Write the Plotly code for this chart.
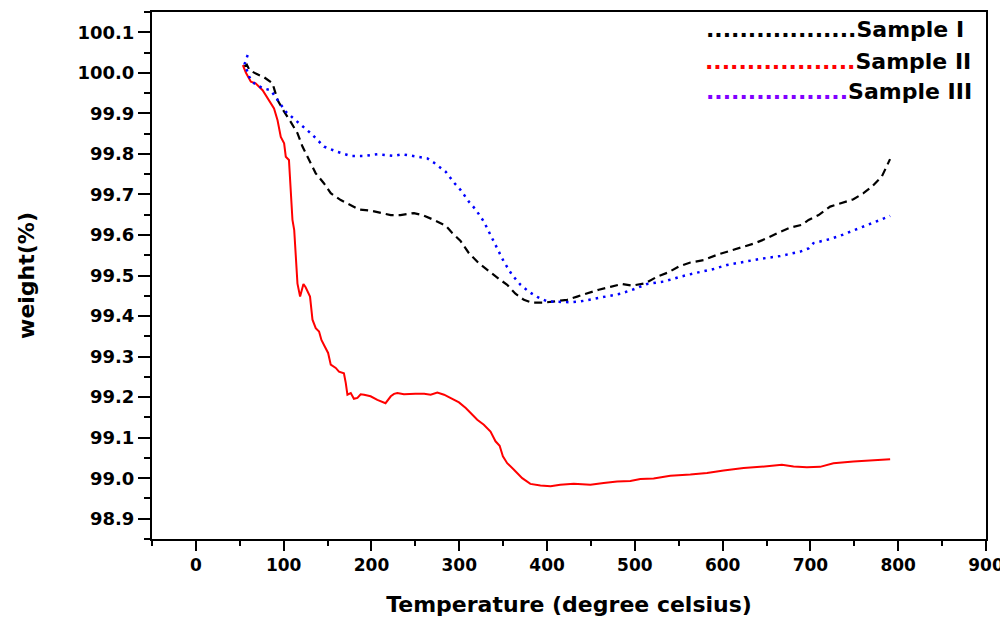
import plotly.graph_objects as go

# ---- data ----
s1_temp = [55, 58, 61, 68.3, 77.7, 87.3, 93, 100.5, 108, 115.7, 121.4, 129, 136.5, 146, 153.6, 165, 176.4, 185.8,
           199, 210.5, 222, 233, 248.4, 258, 271.3, 284.5, 292, 301.5, 311, 322.4, 333.7, 345, 354.6, 364, 373.6,
           383, 396.3, 411.5, 422.9, 434.3, 445.6, 458.9, 472.2, 485.5, 496.8, 512, 525.3, 538.5, 549.9, 563.2,
           578.4, 593.6, 608.8, 623.9, 637.2, 650.5, 663.7, 677, 690.3, 697.9, 709.3, 722.5, 733.9, 749, 760.4,
           770, 781.3, 787, 790.7]
s1_weight = [100.015, 100.02, 100.007, 99.998, 99.989, 99.974, 99.933, 99.904, 99.879, 99.851, 99.818, 99.785,
             99.752, 99.727, 99.703, 99.686, 99.674, 99.663, 99.660, 99.654, 99.649, 99.649, 99.654, 99.649, 99.637,
             99.623, 99.605, 99.585, 99.555, 99.530, 99.510, 99.492, 99.477, 99.455, 99.440, 99.433, 99.433, 99.436,
             99.440, 99.448, 99.456, 99.465, 99.472, 99.479, 99.475, 99.481, 99.497, 99.508, 99.522, 99.532, 99.538,
             99.551, 99.561, 99.571, 99.580, 99.592, 99.606, 99.618, 99.625, 99.637, 99.649, 99.670, 99.678, 99.688,
             99.703, 99.719, 99.744, 99.768, 99.787]

s2_temp = [53.5, 57, 62.6, 68, 76, 83.4, 89, 93, 96.7, 100.5, 102.4, 106, 108, 110, 112, 113.8, 115.7, 118.7,
           122.5, 125, 127.8, 130, 132.8, 136.5, 140.3, 143, 146.8, 150.6, 153.6, 159.3, 163, 168.6, 170.7, 172.6,
           176.4, 180, 184, 187.7, 191.6, 199, 206.7, 216, 222, 225.7, 229.5, 237, 250, 260, 267.4, 275, 282.7,
           294, 299.7, 307.4, 313, 320.5, 328, 335.6, 341.3, 346, 349.7, 354.6, 362.3, 371.7, 381, 392.5, 404, 415,
           430.4, 449.4, 464.5, 479.8, 494.9, 506.3, 521.4, 540.4, 563.2, 582.2, 601.1, 623.9, 642.9, 667.5, 680.8,
           696, 711, 726.2, 749, 771.8, 790.8]
s2_weight = [100.019, 100.0, 99.978, 99.974, 99.957, 99.933, 99.912, 99.883, 99.842, 99.826, 99.793, 99.785, 99.703,
             99.637, 99.612, 99.547, 99.480, 99.448, 99.479, 99.471, 99.456, 99.448, 99.391, 99.370, 99.362, 99.341,
             99.325, 99.309, 99.280, 99.272, 99.263, 99.259, 99.235, 99.206, 99.210, 99.196, 99.198, 99.207, 99.206,
             99.202, 99.193, 99.185, 99.202, 99.208, 99.210, 99.207, 99.208, 99.208, 99.206, 99.211, 99.206, 99.193,
             99.187, 99.173, 99.161, 99.144, 99.132, 99.115, 99.091, 99.080, 99.054, 99.037, 99.021, 99.000, 98.986,
             98.982, 98.980, 98.984, 98.986, 98.984, 98.988, 98.992, 98.993, 98.998, 98.999, 99.006, 99.009, 99.013,
             99.019, 99.025, 99.028, 99.033, 99.029, 99.027, 99.028, 99.037, 99.041, 99.045, 99.047]

s3_temp = [59, 55.5, 58.8, 60.7, 66.4, 75.9, 85.3, 93, 102.4, 115.7, 130.8, 146, 161.2, 176.4, 191.6, 206.7, 225.7,
           235.2, 252.3, 263.6, 271.3, 284.5, 294, 301.5, 311, 318.6, 328, 335.6, 343.2, 350.8, 360.3, 369.8, 379.3,
           388.8, 400.2, 413.4, 426.7, 438, 453.2, 468.4, 483.6, 498.7, 513.9, 532.8, 551.8, 570.8, 589.7, 604.9,
           623.9, 642.9, 665.6, 688.4, 697.9, 703.6, 718.8, 733.9, 749, 764.2, 779.4, 790.8]
s3_weight = [100.044, 100.022, 100.002, 99.990, 99.974, 99.962, 99.957, 99.933, 99.904, 99.879, 99.851, 99.818,
             99.805, 99.795, 99.795, 99.799, 99.795, 99.799, 99.793, 99.789, 99.778, 99.756, 99.729, 99.711, 99.682,
             99.663, 99.633, 99.600, 99.563, 99.534, 99.501, 99.477, 99.460, 99.447, 99.436, 99.435, 99.434, 99.436,
             99.442, 99.448, 99.455, 99.466, 99.479, 99.485, 99.497, 99.507, 99.516, 99.526, 99.534, 99.541, 99.548,
             99.559, 99.567, 99.580, 99.588, 99.598, 99.611, 99.625, 99.637, 99.647]

series_names = ["Sample I", "Sample II", "Sample III"]
x_ticks = [0, 100, 200, 300, 400, 500, 600, 700, 800, 900]
y_ticks = [98.9, 99.0, 99.1, 99.2, 99.3, 99.4, 99.5, 99.6, 99.7, 99.8, 99.9, 100.0, 100.1]

FONT = "DejaVu Sans"

fig = go.Figure()
fig.add_trace(go.Scatter(x=s1_temp, y=s1_weight, mode="lines", name=series_names[0],
                         line=dict(color="black", width=2.2, dash="8px,5px")))
fig.add_trace(go.Scatter(x=s2_temp, y=s2_weight, mode="lines", name=series_names[1],
                         line=dict(color="#ff0000", width=2)))
fig.add_trace(go.Scatter(x=s3_temp, y=s3_weight, mode="lines", name=series_names[2],
                         line=dict(color="#0000ff", width=2.5, dash="2.5px,5px")))

# legend built as text: coloured dot leaders + label
legend_colors = ["black", "#ff0000", "#7f00ff"]
legend_dots = [18, 18, 17]
legend_y = [0.966, 0.907, 0.850]
legend_x = [0.976, 0.985, 0.986]
for name, col, nd, ly, lx in zip(series_names, legend_colors, legend_dots, legend_y, legend_x):
    fig.add_annotation(xref="paper", yref="paper", x=lx, y=ly, xanchor="right", yanchor="middle",
                       showarrow=False,
                       text=f"<span style='color:{col}'>{'.' * nd}</span>{name}",
                       font=dict(family=FONT, size=22, color="black", weight="bold"))

axis_common = dict(showgrid=False, zeroline=False, showline=True, linecolor="black", linewidth=2,
                   mirror=True, ticks="outside", tickcolor="black", tickwidth=2, automargin=False)

fig.update_xaxes(range=[-50, 900], tickvals=x_ticks, ticklen=10,
                 tickfont=dict(family=FONT, size=17, color="black", weight="bold"),
                 minor=dict(dtick=50, tick0=0, ticklen=5, tickwidth=2, tickcolor="black", ticks="outside"),
                 title=dict(text="Temperature (degree celsius)", standoff=22,
                            font=dict(family=FONT, size=22, color="black", weight="bold")),
                 **axis_common)
fig.update_yaxes(range=[98.85, 100.15], tickvals=y_ticks, tickformat=".1f", ticklen=12,
                 tickfont=dict(family=FONT, size=18, color="black", weight="bold"),
                 minor=dict(dtick=0.05, tick0=0, ticklen=6, tickwidth=2, tickcolor="black", ticks="outside"),
                 title=dict(text="weight(%)", standoff=37,
                            font=dict(family=FONT, size=22, color="black", weight="bold")),
                 **axis_common)

# page body adds an 8px offset, so the figure is sized to fit the 1008x619 window
fig.update_layout(width=1000, height=611, margin=dict(l=144, r=22, t=4, b=80),
                  paper_bgcolor="white", plot_bgcolor="white", showlegend=False)

fig.write_html("out.html")
